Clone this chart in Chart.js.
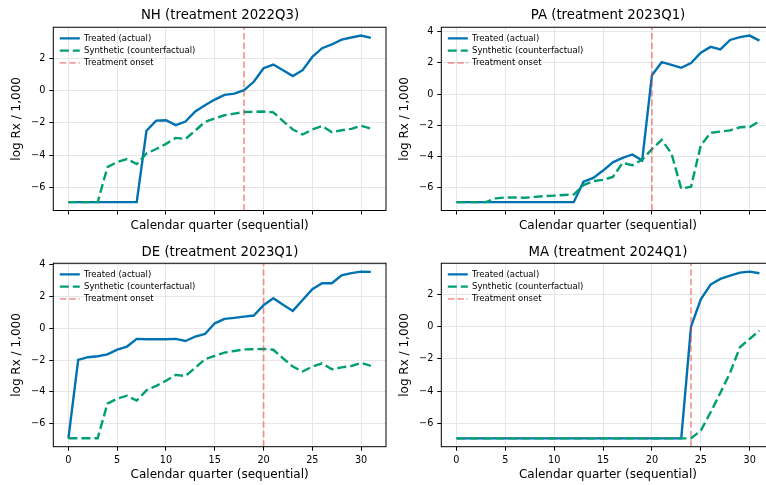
<!DOCTYPE html>
<html>
<head>
<meta charset="utf-8">
<script src="https://cdn.jsdelivr.net/npm/chart.js@4.4.1/dist/chart.umd.min.js"></script>
<style>
  html, body { margin: 0; padding: 0; background: #fff; }
  body { width: 766px; height: 485px; overflow: hidden; position: relative; }
  canvas { position: absolute; }
</style>
</head>
<body>
<canvas id="nh" width="440" height="240" style="left:0px;top:0px"></canvas>
<canvas id="pa" width="450" height="240" style="left:383px;top:0px"></canvas>
<canvas id="de" width="440" height="245" style="left:0px;top:240px"></canvas>
<canvas id="ma" width="450" height="245" style="left:383px;top:240px"></canvas>
<script>
var quarters = [0, 1, 2, 3, 4, 5, 6, 7, 8, 9, 10, 11, 12, 13, 14, 15,
  16, 17, 18, 19, 20, 21, 22, 23, 24, 25, 26, 27, 28, 29, 30, 31];
var xTicks = [0, 5, 10, 15, 20, 25, 30];

// NH
var nhTreated = [-6.91, -6.91, -6.91, -6.91, -6.91, -6.91, -6.91, -6.91, -2.49, -1.86, -1.84, -2.14, -1.92, -1.30, -0.91, -0.56,
  -0.27, -0.19, 0.02, 0.54, 1.38, 1.61, 1.26, 0.89, 1.26, 2.08, 2.62, 2.85, 3.15, 3.28, 3.40, 3.26];
var nhSynthetic = [-6.91, -6.91, -6.91, -6.91, -4.74, -4.42, -4.24, -4.55, -3.90, -3.62, -3.30, -2.93, -3.00, -2.48, -1.94, -1.73,
  -1.53, -1.43, -1.33, -1.32, -1.30, -1.35, -1.89, -2.41, -2.72, -2.41, -2.20, -2.58, -2.46, -2.37, -2.18, -2.36];
var nhOnset = 18;
var nhYTicks = [-6, -4, -2, 0, 2];

// PA
var paTreated = [-6.91, -6.91, -6.91, -6.91, -6.91, -6.91, -6.91, -6.91, -6.91, -6.91, -6.91, -6.91, -6.91, -5.60, -5.36, -4.89,
  -4.36, -4.08, -3.86, -4.25, 1.20, 2.04, 1.87, 1.68, 1.98, 2.64, 3.02, 2.86, 3.46, 3.64, 3.74, 3.42];
var paSynthetic = [-6.91, -6.91, -6.91, -6.91, -6.67, -6.61, -6.61, -6.63, -6.57, -6.52, -6.49, -6.45, -6.42, -5.82, -5.56, -5.48,
  -5.30, -4.40, -4.55, -4.20, -3.52, -2.92, -3.80, -6.05, -5.92, -3.28, -2.48, -2.40, -2.32, -2.12, -2.10, -1.74];
var paOnset = 20;
var paYTicks = [-6, -4, -2, 0, 2, 4];

// DE
var deTreated = [-6.92, -1.99, -1.82, -1.76, -1.64, -1.34, -1.15, -0.67, -0.69, -0.69, -0.69, -0.67, -0.80, -0.52, -0.36, 0.31,
  0.59, 0.65, 0.73, 0.80, 1.45, 1.89, 1.47, 1.09, 1.78, 2.45, 2.83, 2.83, 3.33, 3.46, 3.56, 3.54];
var deSynthetic = [-6.91, -6.91, -6.91, -6.91, -4.74, -4.42, -4.24, -4.55, -3.90, -3.62, -3.30, -2.93, -3.00, -2.48, -1.94, -1.73,
  -1.53, -1.43, -1.33, -1.32, -1.30, -1.35, -1.89, -2.41, -2.72, -2.41, -2.20, -2.58, -2.46, -2.37, -2.18, -2.36];
var deOnset = 20;
var deYTicks = [-6, -4, -2, 0, 2, 4];

// MA
var maTreated = [-6.91, -6.91, -6.91, -6.91, -6.91, -6.91, -6.91, -6.91, -6.91, -6.91, -6.91, -6.91, -6.91, -6.91, -6.91, -6.91,
  -6.91, -6.91, -6.91, -6.91, -6.91, -6.91, -6.91, -6.91, 0.00, 1.69, 2.60, 2.95, 3.15, 3.34, 3.40, 3.30];
var maSynthetic = [-6.91, -6.91, -6.91, -6.91, -6.91, -6.91, -6.91, -6.91, -6.91, -6.91, -6.91, -6.91, -6.91, -6.91, -6.91, -6.91,
  -6.91, -6.91, -6.91, -6.91, -6.91, -6.91, -6.91, -6.91, -6.91, -6.43, -5.30, -4.10, -2.85, -1.28, -0.76, -0.25];
var maOnset = 24;
var maYTicks = [-6, -4, -2, 0, 2];

Chart.defaults.font.family = "'DejaVu Sans', sans-serif";
Chart.defaults.color = '#000';

// box round the plot area, like matplotlib spines
var framePlugin = {
  id: 'frame',
  afterDatasetsDraw: function(chart) {
    var a = chart.chartArea;
    var ctx = chart.ctx;
    ctx.save();
    ctx.strokeStyle = '#000';
    ctx.lineWidth = 1;
    ctx.strokeRect(a.left, a.top, a.right - a.left, a.bottom - a.top);
    ctx.restore();
  }
};

// put the legend in the upper left corner of the plot area
var legendPlugin = {
  id: 'legendCorner',
  afterLayout: function(chart) {
    var lg = chart.legend;
    var a = chart.chartArea;
    if (!lg) return;
    lg.left = a.left + 2.8;
    lg.top = a.top + 3.2;
    lg.right = lg.left + lg.width;
    lg.bottom = lg.top + lg.height;
  }
};

function limits(series) {
  var lo = Infinity, hi = -Infinity;
  series.forEach(function(s) {
    s.forEach(function(v) {
      lo = Math.min(lo, v);
      hi = Math.max(hi, v);
    });
  });
  var pad = (hi - lo) * 0.05;
  return [lo - pad, hi + pad];
}

function legendLabels(chart) {
  var items = Chart.defaults.plugins.legend.labels.generateLabels(chart);
  items.forEach(function(item) {
    item.lineDash = chart.data.datasets[item.datasetIndex].borderDash || [];
  });
  return items;
}

function makeChart(id, title, treated, synthetic, onset, yTicks, rightCol, bottomRow) {
  var lim = limits([treated, synthetic]);
  var yWidth = rightCol ? 58.3 : 53.3;
  var rightPad = rightCol ? 58.4 : 54;
  var xHeight = bottomRow ? 38.3 : 29.5;

  new Chart(document.getElementById(id), {
    type: 'line',
    data: {
      labels: quarters,
      datasets: [
        {
          label: 'Treated (actual)',
          data: treated,
          borderColor: '#0072B2',
          backgroundColor: '#0072B2',
          borderWidth: 2.4,
          pointRadius: 0,
          tension: 0,
          order: 3
        },
        {
          label: 'Synthetic (counterfactual)',
          data: synthetic,
          borderColor: '#009E73',
          backgroundColor: '#009E73',
          borderWidth: 2.4,
          borderDash: [9, 4],
          pointRadius: 0,
          tension: 0,
          order: 2
        },
        {
          label: 'Treatment onset',
          data: [{ x: onset, y: lim[0] }, { x: onset, y: lim[1] }],
          borderColor: 'rgba(235, 60, 60, 0.5)',
          backgroundColor: 'rgba(235, 60, 60, 0.5)',
          borderWidth: 1.8,
          borderDash: [6.5, 3],
          pointRadius: 0,
          order: 1
        }
      ]
    },
    options: {
      responsive: false,
      animation: false,
      events: [],
      scales: {
        x: {
          type: 'linear',
          min: -1.55,
          max: 32.55,
          afterBuildTicks: function(scale) {
            scale.ticks = xTicks.map(function(v) { return { value: v }; });
          },
          afterFit: function(scale) { scale.height = xHeight; },
          ticks: {
            display: bottomRow,
            font: { size: 9.7 },
            padding: 3.5,
            maxRotation: 0
          },
          grid: {
            color: '#e6e6e6',
            lineWidth: 1,
            drawTicks: true,
            tickLength: 4,
            tickColor: '#000',
            tickWidth: 1
          },
          border: { display: false },
          title: {
            display: true,
            text: 'Calendar quarter (sequential)',
            font: { size: 12 },
            padding: { top: 0, bottom: bottomRow ? 2.8 : 7.1 }
          }
        },
        y: {
          min: lim[0],
          max: lim[1],
          afterBuildTicks: function(scale) {
            scale.ticks = yTicks.map(function(v) { return { value: v }; });
          },
          afterFit: function(scale) { scale.width = yWidth; },
          ticks: {
            font: { size: 9.7 },
            padding: 4,
            callback: function(value) {
              return String(value).replace('-', '\u2212');
            }
          },
          grid: {
            color: '#e6e6e6',
            lineWidth: 1,
            drawTicks: true,
            tickLength: 4,
            tickColor: '#000',
            tickWidth: 1
          },
          border: { display: false },
          title: {
            display: true,
            text: 'log Rx / 1,000',
            font: { size: 12 },
            padding: { top: rightCol ? 14.5 : 9.8, bottom: 0 }
          }
        },
        // empty right-hand axis: only keeps the plot centred under its title
        yPad: {
          position: 'right',
          ticks: { display: false },
          grid: { display: false, drawTicks: false },
          border: { display: false },
          afterFit: function(scale) { scale.width = rightPad; }
        }
      },
      plugins: {
        title: {
          display: true,
          text: title,
          font: { size: 13.3, weight: 'normal' },
          color: '#000',
          padding: bottomRow ? { top: 4.3, bottom: 3 } : { top: 7.5, bottom: 3.8 }
        },
        legend: {
          position: 'chartArea',
          align: 'start',
          reverse: true,
          labels: {
            usePointStyle: true,
            pointStyle: 'line',
            pointStyleWidth: 20,
            padding: 3.7,
            color: '#000',
            font: { size: 8.5 },
            generateLabels: legendLabels
          }
        },
        tooltip: { enabled: false }
      }
    },
    plugins: [framePlugin, legendPlugin]
  });
}

makeChart('nh', 'NH (treatment 2022Q3)', nhTreated, nhSynthetic, nhOnset, nhYTicks, false, false);
makeChart('pa', 'PA (treatment 2023Q1)', paTreated, paSynthetic, paOnset, paYTicks, true, false);
makeChart('de', 'DE (treatment 2023Q1)', deTreated, deSynthetic, deOnset, deYTicks, false, true);
makeChart('ma', 'MA (treatment 2024Q1)', maTreated, maSynthetic, maOnset, maYTicks, true, true);
</script>
</body>
</html>
